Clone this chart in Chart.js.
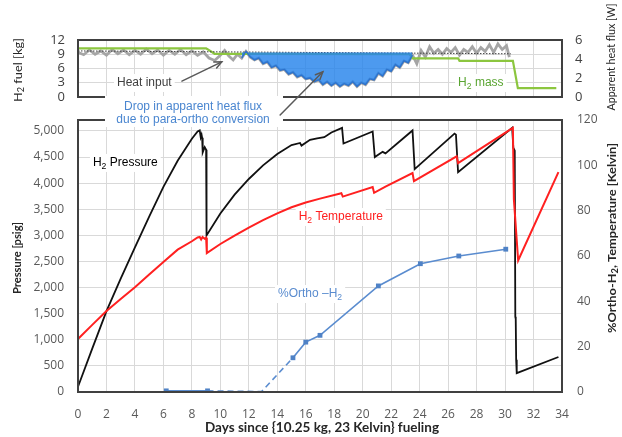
<!DOCTYPE html>
<html><head><meta charset="utf-8">
<script src="https://cdn.jsdelivr.net/npm/chart.js@4.4.1/dist/chart.umd.min.js"></script>
<style>
html,body{margin:0;padding:0;background:#fff;}
#wrap{position:relative;width:622px;height:437px;overflow:hidden;}
canvas{position:absolute;left:0;top:0;}
</style></head><body>
<div id="wrap"><canvas id="topc" width="622" height="437"></canvas><canvas id="mainc" width="622" height="437"></canvas></div>
<script>
// ================= DATA =================
// Main panel: H2 pressure (psig, left axis)
const pressureDays = [0, 1, 2, 3, 4, 5, 6, 7, 8, 8.4, 8.55, 8.62, 8.68, 8.72, 8.76, 8.9, 9.0, 9.03, 10, 11, 12, 13, 14, 15, 15.6, 15.7, 16.3, 16.8, 17.3, 17.8, 18.55, 18.65, 20.7, 20.85, 21.4, 21.6, 23.5, 23.65, 26.45, 26.55, 26.7, 30.5, 30.58, 30.68, 30.72, 30.75, 30.78, 30.82, 33.75];
const pressurePsig = [100, 830, 1550, 2170, 2770, 3360, 3930, 4430, 4850, 4990, 5010, 4880, 4930, 4870, 4590, 4690, 4640, 3000, 3420, 3780, 4080, 4340, 4560, 4730, 4770, 4720, 4830, 4860, 4880, 4970, 5060, 4760, 4990, 4500, 4600, 4570, 5010, 4270, 4950, 4930, 4210, 5060, 4680, 4620, 1440, 1400, 620, 360, 670];
// Main panel: H2 temperature (K, right axis)
const tempDays = [0, 1, 2, 3, 4, 5, 6, 7, 8, 8.4, 8.55, 8.65, 8.75, 8.9, 9.0, 9.05, 10, 11, 12, 13, 14, 15, 16, 17, 18.5, 18.6, 20.7, 20.8, 21.6, 23.5, 23.6, 26.6, 26.7, 30.55, 30.62, 30.92, 33.75];
const tempKelvin = [23.4, 29.6, 35.7, 41, 46.2, 51.8, 57.4, 62.8, 66.5, 68.2, 68.4, 67.3, 68.4, 67.6, 68.0, 61.3, 65.3, 69, 72.5, 75.8, 78.8, 81.5, 83.6, 85.3, 87.7, 86.2, 90.4, 87.9, 90.6, 96.6, 93, 104, 101, 116.5, 85, 58, 97];
// Main panel: %Ortho-H2 (right axis)
const orthoDays = [6.2, 9.1, 12.9, 15.1, 16.0, 17.0, 21.1, 24.05, 26.75, 30.05];
const orthoPct = [0.5, 0.5, 0.2, 15.1, 22, 25, 46.8, 56.6, 60, 63];
const orthoMarker = [1, 1, 0, 1, 1, 1, 1, 1, 1, 1];
const orthoDashed = [0, 1, 1, 0, 0, 0, 0, 0, 0];
// Top panel: H2 mass (kg, left axis)
const massDays = [0, 9.0, 9.6, 11.5, 23.3, 23.5, 26.7, 26.8, 30.55, 30.9, 33.6];
const massKg = [10.25, 10.25, 9.1, 9.1, 9.0, 8.15, 8.15, 7.6, 7.6, 1.85, 1.85];
// Top panel: apparent heat flux (W, right axis)
const heatDays = [0.0, 0.4, 0.8, 1.2, 1.6, 2.0, 2.4, 2.8, 3.2, 3.6, 4.0, 4.4, 4.8, 5.2, 5.6, 6.0, 6.4, 6.8, 7.2, 7.6, 8.0, 8.4, 8.8, 9.2, 9.6, 10.0, 10.3, 10.6, 10.9, 11.2, 11.5, 11.8, 12.1, 12.4, 12.7, 13.0, 13.3, 13.6, 13.9, 14.2, 14.5, 14.8, 15.1, 15.4, 15.7, 16.0, 16.3, 16.6, 16.9, 17.2, 17.5, 17.8, 18.1, 18.4, 18.7, 19.0, 19.3, 19.6, 19.9, 20.2, 20.5, 20.8, 21.1, 21.4, 21.7, 22.0, 22.3, 22.6, 22.9, 23.2, 23.5, 23.8, 24.1, 24.4, 24.7, 25.0, 25.3, 25.6, 25.9, 26.2, 26.5, 26.8, 27.1, 27.4, 27.7, 28.0, 28.3, 28.6, 28.9, 29.2, 29.5, 29.8, 30.1, 30.3];
const heatWatts = [4.7, 4.45, 4.95, 4.5, 4.85, 4.4, 5.0, 4.55, 4.95, 4.45, 4.9, 4.5, 5.05, 4.55, 4.95, 4.4, 4.9, 4.5, 5.0, 4.45, 4.85, 4.4, 4.75, 4.1, 3.85, 4.4, 4.9, 4.3, 3.9, 4.5, 4.1, 4.8, 4.2, 3.9, 4.1, 3.5, 3.7, 3.1, 3.3, 2.8, 2.9, 2.4, 2.6, 2.1, 2.3, 1.9, 2.0, 1.6, 1.8, 1.3, 1.6, 1.2, 1.5, 1.1, 1.4, 1.2, 1.6, 1.1, 1.5, 1.3, 1.9, 1.8, 2.5, 2.2, 2.9, 2.7, 3.4, 3.1, 3.8, 3.6, 4.4, 3.5, 4.9, 4.2, 5.3, 4.6, 5.0, 4.5, 5.1, 4.7, 5.2, 4.4, 5.0, 4.7, 5.3, 4.6, 5.2, 4.8, 5.5, 4.7, 5.6, 5.0, 5.4, 4.2];
const heatBaselineDays = [0, 30.4];
const heatBaselineWatts = [4.85, 4.55];
const dropStartDay = 11.5, dropEndDay = 23.5, dropRefWatts = 4.7;
// Tick values
const pressureTicks = [0, 500, 1000, 1500, 2000, 2500, 3000, 3500, 4000, 4500, 5000];

// ================= HELPERS =================
const zip = (xs, ys) => xs.map((x, i) => ({ x: x, y: ys[i] }));
function parts(str) { return str.split('~').map((t, i) => ({ t: t, sub: i % 2 === 1 })); }
function richWidth(ctx, ps, o) {
  let w = 0;
  for (const p of ps) { ctx.font = `${o.weight || 'normal'} ${p.sub ? o.size * 0.72 : o.size}px ${o.family}`; w += ctx.measureText(p.t).width; }
  return w;
}
function drawRich(ctx, ps, x, y, o) {
  ctx.textBaseline = 'middle'; ctx.textAlign = 'left';
  let cx = x;
  for (const p of ps) {
    ctx.font = `${o.weight || 'normal'} ${p.sub ? o.size * 0.72 : o.size}px ${o.family}`;
    ctx.fillText(p.t, cx, p.sub ? y + o.size * 0.3 : y);
    cx += ctx.measureText(p.t).width;
  }
}
function drawTitle(ctx, str, cx, cy, o) {
  const ps = parts(str);
  const w = richWidth(ctx, ps, o);
  ctx.save();
  ctx.translate(cx, cy);
  if (o.rot) ctx.rotate(o.rot);
  if (o.len) ctx.scale(o.len / w, 1);
  ctx.fillStyle = o.color;
  drawRich(ctx, ps, -w / 2, 0, o);
  ctx.restore();
}
function label(ctx, str, x, y, o) { // x: left, y: middle
  const ps = parts(str);
  const w = richWidth(ctx, ps, o);
  if (o.box) { ctx.fillStyle = '#fff'; ctx.fillRect(x - 3, y - 9, w + 6, 18); }
  ctx.fillStyle = o.color;
  drawRich(ctx, ps, x, y, o);
}
function arrow(ctx, x1, y1, x2, y2) {
  ctx.save();
  ctx.strokeStyle = '#595959'; ctx.lineWidth = 1.5; ctx.lineCap = 'round';
  ctx.beginPath(); ctx.moveTo(x1, y1); ctx.lineTo(x2, y2); ctx.stroke();
  const a = Math.atan2(y2 - y1, x2 - x1), L = 8;
  ctx.beginPath();
  ctx.moveTo(x2 - L * Math.cos(a - 0.42), y2 - L * Math.sin(a - 0.42));
  ctx.lineTo(x2, y2);
  ctx.lineTo(x2 - L * Math.cos(a + 0.42), y2 - L * Math.sin(a + 0.42));
  ctx.stroke();
  ctx.restore();
}
function box(chart, color, lw) {
  const a = chart.chartArea, c = chart.ctx;
  c.save(); c.strokeStyle = color; c.lineWidth = lw;
  c.strokeRect(a.left, a.top, a.right - a.left, a.bottom - a.top);
  c.restore();
}
const ANN = 'Liberation Sans, Arial, sans-serif';
const TICK = '"Open Sans", sans-serif';

// ================= TOP PANEL =================
const heatPts = zip(heatDays, heatWatts);
const dropPts = heatPts.filter(p => p.x >= dropStartDay && p.x <= dropEndDay);
const topChart = new Chart(document.getElementById('topc'), {
  type: 'line',
  data: {
    datasets: [
      { data: dropPts, yAxisID: 'y2', borderColor: '#2d72cc', borderWidth: 1.3, pointRadius: 0,
        fill: { target: { value: dropRefWatts }, above: 'rgba(0,0,0,0)', below: 'rgba(38,132,236,0.82)' } },
      { data: zip(heatBaselineDays, heatBaselineWatts), yAxisID: 'y2', borderColor: '#404040', borderWidth: 1, borderDash: [1.5, 1.5], pointRadius: 0 },
      { data: zip(massDays, massKg), yAxisID: 'y', borderColor: '#8cc63f', borderWidth: 2.2, pointRadius: 0 },
      { data: heatPts, yAxisID: 'y2', borderColor: '#a5a5a5', borderWidth: 2.8, pointRadius: 0 }
    ]
  },
  options: {
    responsive: false, animation: false, events: [],
    layout: { padding: { top: 40, left: 0, right: 0, bottom: 0 } },
    plugins: { legend: { display: false }, tooltip: { enabled: false } },
    scales: {
      x: { type: 'linear', min: 0, max: 34, ticks: { display: false, stepSize: 2 },
           grid: { color: '#d9d9d9', drawTicks: false }, border: { display: false },
           afterFit: s => { s.height = 340; } },
      y: { position: 'left', min: 0, max: 12,
           ticks: { stepSize: 3, autoSkip: false, padding: 13, color: '#404040', font: { family: TICK, size: 13 } },
           grid: { color: '#d9d9d9', drawTicks: false }, border: { display: false },
           afterFit: s => { s.width = 78; } },
      y2: { position: 'right', min: 0, max: 6,
            ticks: { stepSize: 2, autoSkip: false, padding: 13, color: '#404040', font: { family: TICK, size: 13 } },
            grid: { display: false, drawTicks: false }, border: { display: false },
            afterFit: s => { s.width = 60; } }
    }
  },
  plugins: [{ id: 'topbox', afterDraw: c => box(c, '#404040', 2) }]
});

// ================= MAIN PANEL =================
const mainChart = new Chart(document.getElementById('mainc'), {
  type: 'line',
  data: {
    datasets: [
      { data: zip(tempDays, tempKelvin), yAxisID: 'y2', borderColor: '#ff2020', borderWidth: 2, pointRadius: 0, tension: 0 },
      { data: zip(pressureDays, pressurePsig), yAxisID: 'y', borderColor: '#111111', borderWidth: 1.8, pointRadius: 0, tension: 0 },
      { data: zip(orthoDays, orthoPct), yAxisID: 'y2', borderColor: '#5a8ccf', borderWidth: 1.6,
        pointStyle: 'rect', pointRadius: ctx => orthoMarker[ctx.dataIndex] ? 3.4 : 0,
        pointBackgroundColor: '#4f82c6', pointBorderColor: '#4f82c6', pointBorderWidth: 0,
        segment: { borderDash: ctx => orthoDashed[ctx.p0DataIndex] ? [6, 4] : undefined } }
    ]
  },
  options: {
    responsive: false, animation: false, events: [],
    layout: { padding: { top: 120, left: 0, right: 0, bottom: 0 } },
    plugins: { legend: { display: false }, tooltip: { enabled: false } },
    scales: {
      x: { type: 'linear', min: 0, max: 34,
           ticks: { stepSize: 2, padding: 15, color: '#595959', font: { family: TICK, size: 12 } },
           grid: { color: '#d9d9d9', drawTicks: false }, border: { display: false },
           afterFit: s => { s.height = 45; } },
      y: { position: 'left', min: 0, max: 5210,
           afterBuildTicks: s => { s.ticks = pressureTicks.map(v => ({ value: v })); },
           ticks: { autoSkip: false, padding: 14, color: '#595959', font: { family: TICK, size: 12 },
                    callback: v => Number(v).toLocaleString('en-US') },
           grid: { color: '#d9d9d9', drawTicks: false }, border: { display: false },
           afterFit: s => { s.width = 78; } },
      y2: { position: 'right', min: 0, max: 120,
            ticks: { stepSize: 20, autoSkip: false, padding: 15, color: '#595959', font: { family: TICK, size: 12 } },
            grid: { display: false, drawTicks: false }, border: { display: false },
            afterFit: s => { s.width = 60; } }
    }
  },
  plugins: [{
    id: 'annot',
    beforeDatasetsDraw: c => {
      const ctx = c.ctx, X = c.scales.x, Y = c.scales.y;
      ctx.save();
      label(ctx, 'H~2~ Pressure', X.getPixelForValue(1.05), Y.getPixelForValue(4387), { size: 12, family: ANN, color: '#000', box: true });
      label(ctx, 'H~2~ Temperature', X.getPixelForValue(15.5), Y.getPixelForValue(3352), { size: 12, family: ANN, color: '#ff2020', box: true });
      label(ctx, '%Ortho –H~2~', X.getPixelForValue(14.05), Y.getPixelForValue(1877), { size: 12, family: ANN, color: '#5a8ccf', box: true });
      ctx.restore();
    },
    afterDraw: c => {
      const ctx = c.ctx;
      box(c, '#404040', 2);
      const TX = topChart.scales.x, TY = topChart.scales.y;
      ctx.save();
      // top panel labels
      label(ctx, 'Heat input', TX.getPixelForValue(2.74), TY.getPixelForValue(2.95), { size: 12, family: ANN, color: '#404040', box: true });
      label(ctx, 'H~2~ mass', TX.getPixelForValue(26.7), TY.getPixelForValue(2.95), { size: 12, family: ANN, color: '#5aa532', box: true });
      // para-ortho annotation
      ctx.fillStyle = '#fff';
      ctx.fillRect(105, 96, 178, 31);
      ctx.fillStyle = '#4a86d0';
      ctx.font = `12px ${ANN}`; ctx.textAlign = 'center'; ctx.textBaseline = 'middle';
      const cx = TX.getPixelForValue(8.08);
      ctx.fillText('Drop in apparent heat flux', cx, TY.getPixelForValue(-2.1));
      ctx.fillText('due to para-ortho conversion', cx, TY.getPixelForValue(-4.84));
      // arrows (data coordinates of the top panel)
      arrow(ctx, TX.getPixelForValue(7.3), TY.getPixelForValue(3.35), TX.getPixelForValue(10.1), TY.getPixelForValue(7.4));
      arrow(ctx, TX.getPixelForValue(14.2), TY.getPixelForValue(-3.8), TX.getPixelForValue(17.2), TY.getPixelForValue(5.3));
      // axis titles
      drawTitle(ctx, 'H~2~ fuel [kg]', 18, 70, { size: 12, family: 'Lato, sans-serif', color: '#262626', rot: -Math.PI / 2, len: 64 });
      drawTitle(ctx, 'Pressure [psig]', 17, 258, { size: 12, weight: 'bold', family: 'Lato, sans-serif', color: '#262626', rot: -Math.PI / 2, len: 72 });
      drawTitle(ctx, 'Apparent heat flux [W]', 611, 57, { size: 12, family: 'Lato, sans-serif', color: '#262626', rot: -Math.PI / 2, len: 107 });
      drawTitle(ctx, '%Ortho-H~2~, Temperature [Kelvin]', 612, 238, { size: 12, weight: 'bold', family: 'Lato, sans-serif', color: '#262626', rot: -Math.PI / 2, len: 190 });
      drawTitle(ctx, 'Days since {10.25 kg, 23 Kelvin} fueling', 322, 428, { size: 12.5, weight: 'bold', family: 'Lato, sans-serif', color: '#262626', len: 234 });
      ctx.restore();
    }
  }]
});
</script></body></html>
